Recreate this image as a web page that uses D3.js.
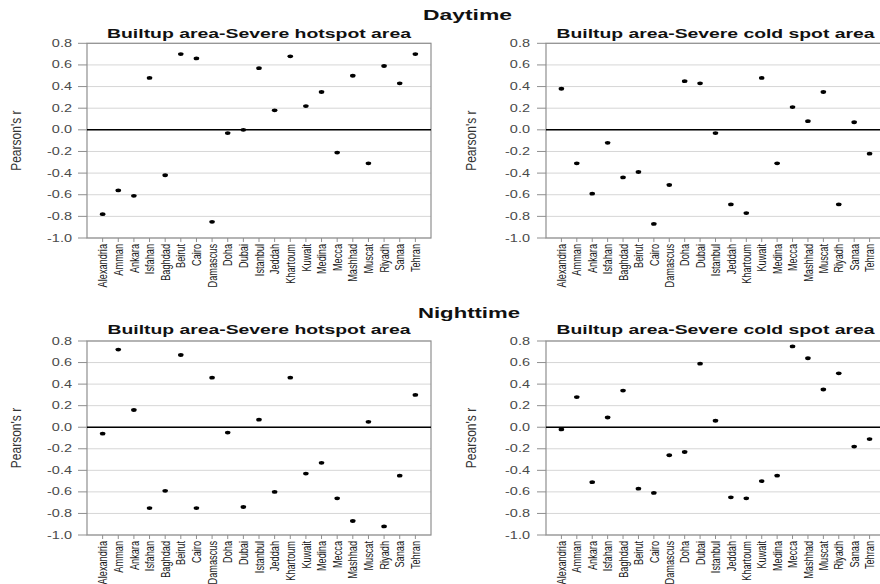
<!DOCTYPE html>
<html>
<head>
<meta charset="utf-8">
<script src="https://cdn.jsdelivr.net/npm/d3@7/dist/d3.min.js"></script>
<style>
  html, body { margin: 0; padding: 0; background: #fff; }
  svg { display: block; font-family: "Liberation Sans", Arial, sans-serif; }
</style>
</head>
<body>
<svg id="chart" width="880" height="584"></svg>
<script>
// ---------------- data ----------------
const cities = ["Alexandria","Amman","Ankara","Isfahan","Baghdad","Beirut","Cairo","Damascus","Doha","Dubai","Istanbul","Jeddah","Khartoum","Kuwait","Medina","Mecca","Mashhad","Muscat","Riyadh","Sanaa","Tehran"];
const dayHot    = [-0.78,-0.56,-0.61, 0.48,-0.42, 0.70, 0.66,-0.85,-0.03, 0.00, 0.57, 0.18, 0.68, 0.22, 0.35,-0.21, 0.50,-0.31, 0.59, 0.43, 0.70];
const dayCold   = [ 0.38,-0.31,-0.59,-0.12,-0.44,-0.39,-0.87,-0.51, 0.45, 0.43,-0.03,-0.69,-0.77, 0.48,-0.31, 0.21, 0.08, 0.35,-0.69, 0.07,-0.22];
const nightHot  = [-0.06, 0.72, 0.16,-0.75,-0.59, 0.67,-0.75, 0.46,-0.05,-0.74, 0.07,-0.60, 0.46,-0.43,-0.33,-0.66,-0.87, 0.05,-0.92,-0.45, 0.30];
const nightCold = [-0.02, 0.28,-0.51, 0.09, 0.34,-0.57,-0.61,-0.26,-0.23, 0.59, 0.06,-0.65,-0.66,-0.50,-0.45, 0.75, 0.64, 0.35, 0.50,-0.18,-0.11];
const yTicks = [0.8, 0.6, 0.4, 0.2, 0.0, -0.2, -0.4, -0.6, -0.8, -1.0];
const yDomain = [-1.0, 0.8];
const sectionTitles = ["Daytime", "Nighttime"];
const panelTitles = ["Builtup area-Severe hotspot area", "Builtup area-Severe cold spot area"];
const yAxisTitle = "Pearson's r";

// ---------------- layout ----------------
const svg = d3.select("#chart");
const panels = [
  { values: dayHot,    title: panelTitles[0], x0: 87,  x1: 431, yTop: 43.3, yBot: 238, titleY: 37.5, titleW: 304, labX: 72,  ytX: 16 },
  { values: dayCold,   title: panelTitles[1], x0: 546, x1: 885, yTop: 43.3, yBot: 238, titleY: 37.5, titleW: 318, labX: 530, ytX: 471 },
  { values: nightHot,  title: panelTitles[0], x0: 87,  x1: 431, yTop: 341,  yBot: 535, titleY: 334,  titleW: 303, labX: 72,  ytX: 16 },
  { values: nightCold, title: panelTitles[1], x0: 546, x1: 885, yTop: 341,  yBot: 535, titleY: 333.5,titleW: 318, labX: 530, ytX: 471 }
];
const sections = [
  { text: sectionTitles[0], x: 467.5, y: 19.5, w: 89 },
  { text: sectionTitles[1], x: 469,   y: 318,  w: 102 }
];
const fmt = v => d3.format(".1f")(v).replace("\u2212", "-");

sections.forEach(s => {
  svg.append("text")
    .attr("x", s.x).attr("y", s.y)
    .attr("text-anchor", "middle")
    .attr("font-size", 14).attr("font-weight", "bold").attr("fill", "#111")
    .attr("textLength", s.w).attr("lengthAdjust", "spacingAndGlyphs")
    .text(s.text);
});

panels.forEach(p => {
  const g = svg.append("g");
  const x = d3.scalePoint().domain(cities).range([p.x0, p.x1]).padding(1);
  const y = d3.scaleLinear().domain(yDomain).range([p.yBot, p.yTop]);

  // gridlines
  g.selectAll(".grid").data(yTicks).join("line")
    .attr("x1", p.x0).attr("x2", p.x1)
    .attr("y1", d => y(d)).attr("y2", d => y(d))
    .attr("stroke", "#d6d6d6").attr("stroke-width", 1);

  // border
  g.append("rect")
    .attr("x", p.x0).attr("y", y(yDomain[1]))
    .attr("width", p.x1 - p.x0).attr("height", y(yDomain[0]) - y(yDomain[1]))
    .attr("fill", "none").attr("stroke", "#8f8f8f").attr("stroke-width", 1.2);

  // zero line
  g.append("line")
    .attr("x1", p.x0).attr("x2", p.x1)
    .attr("y1", y(0)).attr("y2", y(0))
    .attr("stroke", "#000").attr("stroke-width", 1.5);

  // y ticks + labels
  g.selectAll(".yt").data(yTicks).join("line")
    .attr("x1", p.x0 - 9).attr("x2", p.x0)
    .attr("y1", d => y(d)).attr("y2", d => y(d))
    .attr("stroke", "#8f8f8f");
  g.selectAll(".yl").data(yTicks).join("text")
    .attr("transform", d => `translate(${p.labX},${y(d)}) scale(1.45,1)`)
    .attr("dy", "0.35em")
    .attr("text-anchor", "end")
    .attr("font-size", 10).attr("fill", "#4a4a4a")
    .text(d => fmt(d));

  // x ticks + labels
  g.selectAll(".xt").data(cities).join("line")
    .attr("x1", d => x(d)).attr("x2", d => x(d))
    .attr("y1", p.yBot).attr("y2", p.yBot + 4)
    .attr("stroke", "#8f8f8f");
  g.selectAll(".xl").data(cities).join("text")
    .attr("transform", d => `translate(${x(d)},${p.yBot + 6}) scale(1.45,1) rotate(-90)`)
    .attr("dy", "0.35em")
    .attr("text-anchor", "end")
    .attr("font-size", 9.2).attr("fill", "#1a1a1a")
    .text(d => d);

  // y-axis title
  g.append("text")
    .attr("transform", `translate(${p.ytX},${(p.yTop + p.yBot) / 2}) scale(1.25,1) rotate(-90)`)
    .attr("dy", "0.35em")
    .attr("text-anchor", "middle")
    .attr("font-size", 12).attr("fill", "#333")
    .text(yAxisTitle);

  // panel title
  g.append("text")
    .attr("x", (p.x0 + p.x1) / 2).attr("y", p.titleY)
    .attr("text-anchor", "middle")
    .attr("font-size", 12).attr("font-weight", "bold").attr("fill", "#111")
    .attr("textLength", p.titleW).attr("lengthAdjust", "spacingAndGlyphs")
    .text(p.title);

  // points
  g.selectAll(".pt").data(p.values).join("ellipse")
    .attr("cx", (d, i) => x(cities[i]))
    .attr("cy", d => y(d))
    .attr("rx", 2.8).attr("ry", 1.9)
    .attr("fill", "#000");
});
</script>
</body>
</html>
